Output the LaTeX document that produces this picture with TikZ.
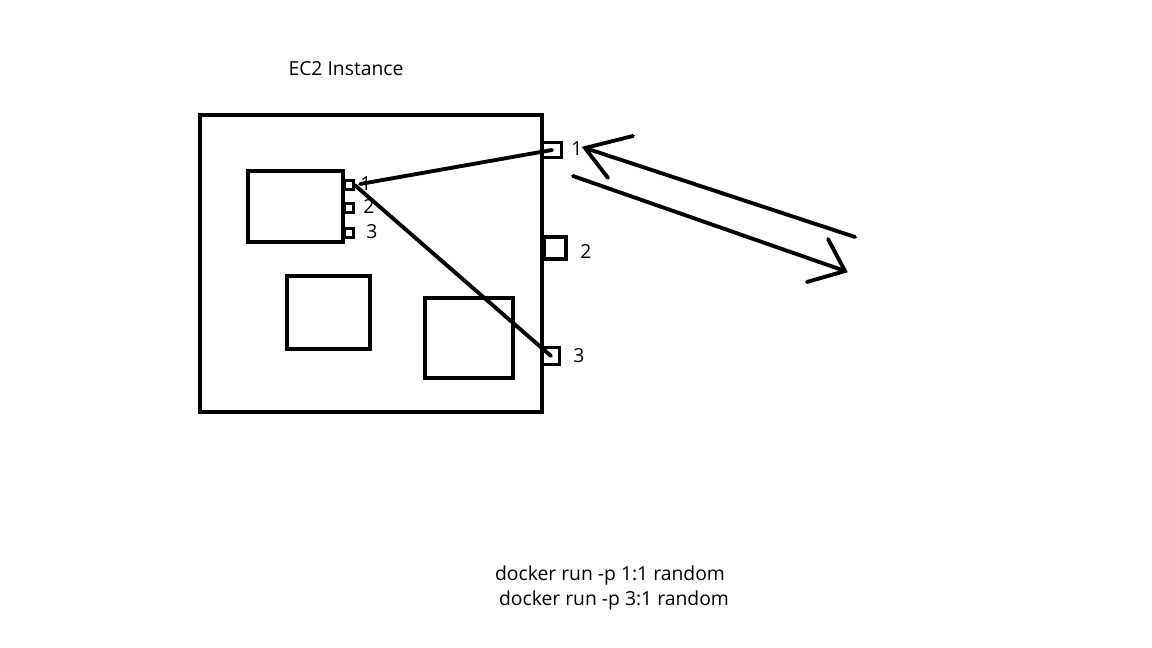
\documentclass[tikz,border=0pt]{standalone}
\usepackage{fontspec}
\setmainfont{Open Sans}

\begin{document}
\begin{tikzpicture}[x=0.02cm, y=-0.02cm,
    box/.style={draw, line width=2.4pt, rectangle, inner sep=0pt},
    cport/.style={draw, line width=1.8pt, rectangle, inner sep=0pt, minimum size=0.17cm},
    hport/.style={draw, line width=2pt, rectangle, inner sep=0pt},
    link/.style={line width=2.2pt, line cap=round},
    txt/.style={font=\fontsize{11}{13}\selectfont, inner sep=0pt}
]
  \useasboundingbox (0,0) rectangle (1152,648);

  \node[txt] (title) at (346,69) {EC2 Instance};
  \node[box, minimum width=342*0.02cm, minimum height=297*0.02cm] (instance) at (371,263.5) {};

  % containers
  \node[box, minimum width=95*0.02cm, minimum height=71*0.02cm] (ctrA) at (295.5,206.5) {};
  \node[box, minimum width=83*0.02cm, minimum height=73*0.02cm] (ctrB) at (328.5,312.5) {};
  \node[box, minimum width=88*0.02cm, minimum height=80*0.02cm] (ctrC) at (469,338) {};

  % container ports
  \foreach \n/\y/\lx in {1/185/366,2/208/369,3/233/372}{
    \node[cport, anchor=west] (cp\n) at (343,\y) {};
    \node[txt] (cpl\n) at (\lx,\y-1) {\n};
  }

  % host ports
  \node[hport, minimum width=0.38cm, minimum height=0.3cm] (hp1) at (552,150) {};
  \node[hport, minimum width=0.44cm, minimum height=0.44cm] (hp2) at (555,248) {};
  \node[hport, minimum width=0.34cm, minimum height=0.34cm] (hp3) at (551,356) {};
  \node[txt] (hpl1) at (577,149) {1};
  \node[txt] (hpl2) at (586,252) {2};
  \node[txt] (hpl3) at (579,356) {3};

  % mappings
  \draw[link] (cpl1.west) -- (hp1.center);
  \draw[link] (cp1.east) -- (hp3.center);

  % traffic
  \coordinate (inTail) at (855,237);
  \coordinate (inTip) at (585,148);
  \coordinate (outTail) at (573,176);
  \coordinate (outTip) at (845,271);
  \draw[link] (inTail) -- (inTip);
  \draw[link] (633,136) -- (inTip) -- (608,178);
  \draw[link] (outTail) -- (outTip);
  \draw[link] (828,239) -- (outTip) -- (807,282);

  \node[txt] (cmd1) at (610,575) {docker run -p 1:1 random};
  \node[txt] (cmd2) at (614,600) {docker run -p 3:1 random};
\end{tikzpicture}
\end{document}
